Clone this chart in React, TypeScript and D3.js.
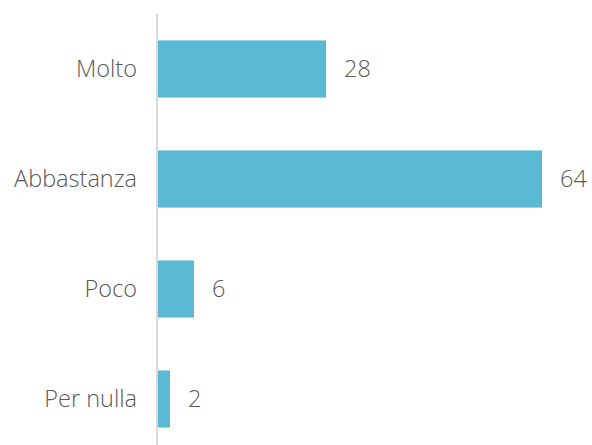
import React, { useEffect, useRef } from 'react';
import * as d3 from 'd3';

const categories = ['Molto', 'Abbastanza', 'Poco', 'Per nulla'];
const values = [28, 64, 6, 2];

const App = () => {
    const ref = useRef<SVGSVGElement>(null);

    useEffect(() => {
        const svg = d3.select(ref.current);
        svg.selectAll('*').remove();

        const axisX = 157;
        const x = d3.scaleLinear().domain([0, 64]).range([axisX + 1, 542]);
        const y = d3.scaleBand()
            .domain(categories)
            .range([14, 454])
            .paddingInner(0.48)
            .paddingOuter(0.24);

        const data = categories.map((c, i) => ({ c, v: values[i] }));

        svg.append('g')
            .selectAll('rect')
            .data(data)
            .join('rect')
            .attr('x', x(0))
            .attr('y', d => y(d.c)!)
            .attr('width', d => x(d.v) - x(0))
            .attr('height', y.bandwidth())
            .attr('fill', '#5bbad3');

        svg.append('line')
            .attr('x1', axisX).attr('x2', axisX)
            .attr('y1', 14).attr('y2', 445)
            .attr('stroke', '#d9d9d9')
            .attr('stroke-width', 2);

        const font = "'Open Sans', sans-serif";

        svg.append('g')
            .selectAll('text')
            .data(data)
            .join('text')
            .attr('x', axisX - 20)
            .attr('y', d => y(d.c)! + y.bandwidth() / 2)
            .attr('dy', '0.35em')
            .attr('text-anchor', 'end')
            .attr('font-family', font)
            .attr('font-weight', 300)
            .attr('font-size', 23.5)
            .attr('fill', '#595959')
            .text(d => d.c);

        svg.append('g')
            .selectAll('text')
            .data(data)
            .join('text')
            .attr('x', d => x(d.v) + 18)
            .attr('y', d => y(d.c)! + y.bandwidth() / 2)
            .attr('dy', '0.35em')
            .attr('font-family', font)
            .attr('font-weight', 300)
            .attr('font-size', 23.5)
            .attr('fill', '#595959')
            .text(d => d.v);
    }, []);

    return (
        <svg ref={ref} width={592} height={445} style={{ position: 'absolute', left: 0, top: 0 }} />
    );
};

export default App;
